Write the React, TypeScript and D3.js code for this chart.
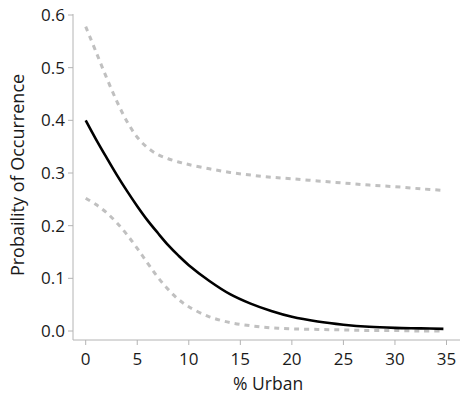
import React from 'react';
import * as d3 from 'd3';

const urban = [0, 1, 2, 3, 4, 5, 6, 7, 8, 9, 10, 12, 14, 16, 18, 20, 22.5, 25, 27.5, 30, 32.5, 34.7];
// fitted probability
const fit = [0.4, 0.364, 0.33, 0.297, 0.266, 0.237, 0.21, 0.186, 0.163, 0.143, 0.125, 0.095, 0.07, 0.052, 0.038, 0.027, 0.018, 0.012, 0.008, 0.006, 0.005, 0.004];
// confidence band
const upper = [0.578, 0.53, 0.482, 0.437, 0.398, 0.368, 0.348, 0.335, 0.327, 0.321, 0.316, 0.308, 0.301, 0.296, 0.292, 0.289, 0.285, 0.281, 0.277, 0.274, 0.27, 0.267];
const lower = [0.252, 0.24, 0.225, 0.206, 0.183, 0.157, 0.129, 0.102, 0.079, 0.06, 0.046, 0.027, 0.016, 0.01, 0.006, 0.004, 0.003, 0.002, 0.001, 0.001, 0.0, 0.0];

const xTicks = [0, 5, 10, 15, 20, 25, 30, 35];
const yTicks = [0, 0.1, 0.2, 0.3, 0.4, 0.5, 0.6];

const W = 462;
const H = 396;
const FONT = '"Open Sans", "Noto Sans", sans-serif';
const AXIS = '#b4b4b4';
const TEXT = '#1a1a1a';

export default function App() {
  const x = d3.scaleLinear().domain([0, 35]).range([85.7, 446.5]);
  const y = d3.scaleLinear().domain([0, 0.6]).range([331, 15]);

  const axisLeft = 73;
  const axisBottom = 340;

  const line = d3
    .line<number>()
    .x((_, i) => x(urban[i]))
    .y((d) => y(d))
    .curve(d3.curveCatmullRom.alpha(0.5));

  return (
    <div style={{ position: 'absolute', left: 0, top: 0 }}>
      <svg width={W} height={H} style={{ display: 'block', background: '#fff' }}>
        {/* axes */}
        <line x1={axisLeft} x2={axisLeft} y1={14} y2={axisBottom} stroke={AXIS} strokeWidth={1} />
        <line x1={axisLeft} x2={460} y1={axisBottom} y2={axisBottom} stroke={AXIS} strokeWidth={1} />

        {yTicks.map((t) => (
          <g key={'y' + t}>
            <line x1={axisLeft - 5} x2={axisLeft} y1={y(t)} y2={y(t)} stroke={AXIS} />
            <text
              x={axisLeft - 8}
              y={y(t)}
              dy="0.35em"
              textAnchor="end"
              fontFamily={FONT}
              fontSize={17}
              fill={TEXT}
            >
              {t.toFixed(1)}
            </text>
          </g>
        ))}

        {xTicks.map((t) => (
          <g key={'x' + t}>
            <line x1={x(t)} x2={x(t)} y1={axisBottom} y2={axisBottom + 5} stroke={AXIS} />
            <text
              x={x(t)}
              y={axisBottom + 25}
              textAnchor="middle"
              fontFamily={FONT}
              fontSize={17}
              fill={TEXT}
            >
              {t}
            </text>
          </g>
        ))}

        <text
          x={(x(0) + x(35)) / 2 + 2}
          y={390}
          textAnchor="middle"
          fontFamily={FONT}
          fontSize={17.5}
          fill={TEXT}
        >
          % Urban
        </text>
        <text
          transform={`translate(24, 175) rotate(-90)`}
          textAnchor="middle"
          fontFamily={FONT}
          fontSize={18}
          fill={TEXT}
        >
          Probaility of Occurrence
        </text>

        {/* confidence limits */}
        <path d={line(upper) || ''} fill="none" stroke="#c0c0c0" strokeWidth={3} strokeDasharray="5,5" />
        <path d={line(lower) || ''} fill="none" stroke="#c0c0c0" strokeWidth={3} strokeDasharray="5,5" />
        {/* fitted curve */}
        <path d={line(fit) || ''} fill="none" stroke="#000" strokeWidth={2.6} />
      </svg>
    </div>
  );
}
